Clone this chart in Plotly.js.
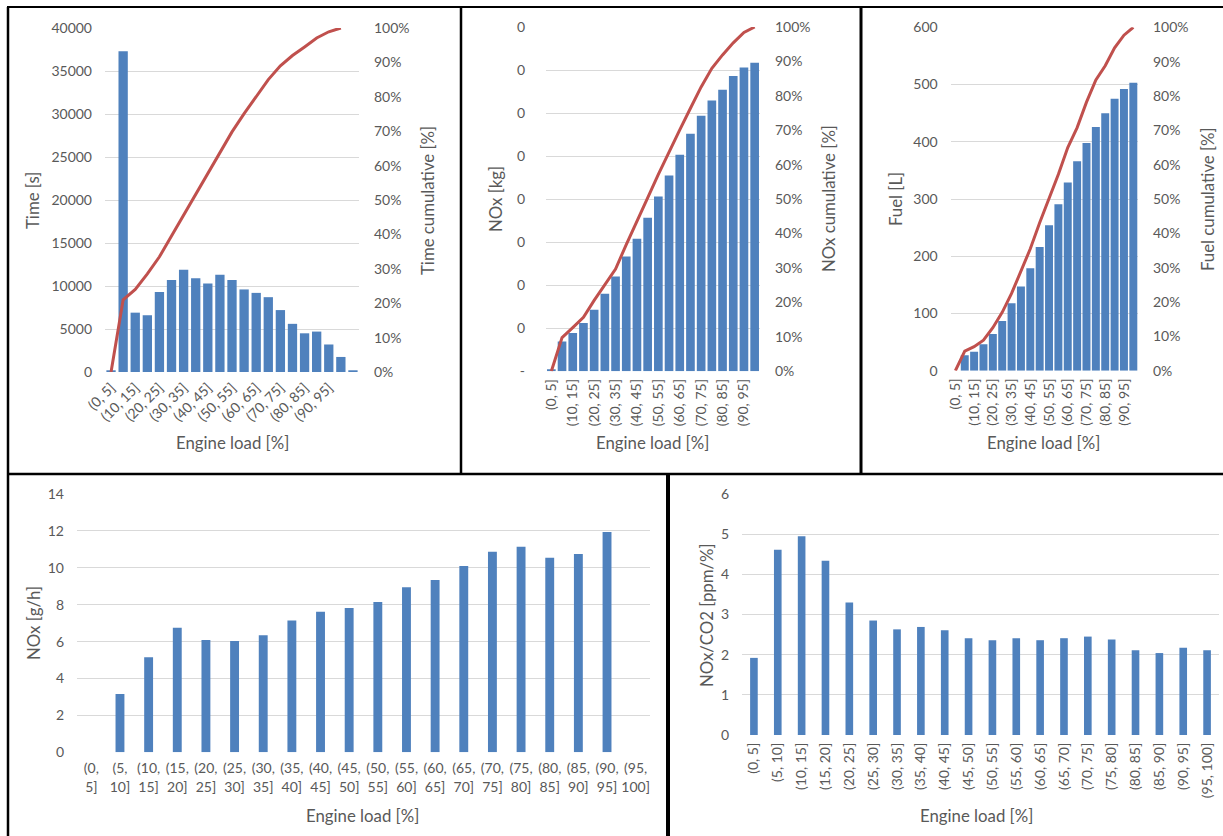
<!DOCTYPE html>
<html><head><meta charset="utf-8">
<script src="https://cdn.plot.ly/plotly-3.0.1.min.js"></script>
<style>html,body{margin:0;padding:0;background:#fff;}#chart{width:1223px;height:836px;}</style>
</head><body><div id="chart"></div>
<script>
// ---------------- DATA ----------------
const loadBins = ["(0, 5]","(5, 10]","(10, 15]","(15, 20]","(20, 25]","(25, 30]","(30, 35]","(35, 40]","(40, 45]","(45, 50]",
                  "(50, 55]","(55, 60]","(60, 65]","(65, 70]","(70, 75]","(75, 80]","(80, 85]","(85, 90]","(90, 95]","(95, 100]"];
const timeBins = ["(0, 5]","(5, 10]","(10, 15]","(15, 20]","(20, 25]","(25, 30]","(30, 35]","(35, 40]","(40, 45]","(45, 50]",
                  "(50, 55]","(55, 60]","(60, 65]","(65, 70]","(70, 75]","(75, 80]","(80, 85]","(85, 90]","(90, 95]","(95, 100]","> 100"];
const shownLoadLabels = ["(0, 5]","(10, 15]","(20, 25]","(30, 35]","(40, 45]","(50, 55]","(60, 65]","(70, 75]","(80, 85]","(90, 95]"];

const timeSeconds = [200, 37300, 6900, 6600, 9300, 10700, 11900, 10900, 10300, 11300, 10700, 9600, 9200, 8700, 7200, 5600, 4500, 4700, 3200, 1750, 200];
const timeCumPct  = [0, 21, 24, 28.5, 33.5, 39.5, 45.8, 51.8, 57.6, 63.8, 69.8, 75.1, 80.2, 85, 89, 92, 94.5, 97.1, 98.9, 100];

const noxKg      = [0.0025, 0.0345, 0.0445, 0.056, 0.0715, 0.09, 0.11, 0.1335, 0.154, 0.1785, 0.203, 0.2275, 0.2515, 0.276, 0.297, 0.3145, 0.327, 0.343, 0.353, 0.3585];
const noxCumPct  = [0, 9.8, 12.7, 15.7, 20.6, 25.1, 29.7, 36.8, 43.8, 50.4, 57.2, 63.9, 70.1, 76.4, 82.6, 88, 91.9, 95.4, 98.4, 100];
const noxKgTickVals = [0, 0.05, 0.1, 0.15, 0.2, 0.25, 0.3, 0.35, 0.4];
const noxKgTickText = ["-", "0", "0", "0", "0", "0", "0", "0", "0"];

const fuelL       = [0, 27, 33, 46, 64, 87, 118, 147, 179, 216, 254, 291, 329, 366, 398, 426, 450, 475, 492, 503];
const fuelCumPct  = [0, 5.7, 7, 8.9, 12.5, 17, 22.5, 29, 35.5, 43.1, 49.9, 57.2, 65, 70.8, 78.2, 84.7, 88.8, 94, 97.7, 100];

const noxRate = [null, 3.16, 5.15, 6.75, 6.09, 6.03, 6.34, 7.15, 7.62, 7.82, 8.15, 8.94, 9.34, 10.1, 10.87, 11.14, 10.55, 10.75, 11.94, null];
const noxCo2  = [1.92, 4.61, 4.95, 4.34, 3.30, 2.85, 2.63, 2.69, 2.61, 2.41, 2.36, 2.41, 2.36, 2.41, 2.45, 2.38, 2.11, 2.04, 2.17, 2.11];

// ---------------- STYLE ----------------
const W = 1223, H = 836;
const fx = p => p / W;
const fy = p => 1 - p / H;
const BLUE = "#4F81BD", RED = "#C0504D", GRID = "#d9d9d9", TXT = "#595959";
const FONT = "Lato, 'Open Sans', sans-serif";
const tickFont = {family: FONT, size: 14, color: TXT};

const pct = a => a.map(v => v == null ? null : v / 100);

const traces = [
  {type:'bar', x: timeBins, y: timeSeconds, xaxis:'x', yaxis:'y', marker:{color:BLUE}, width:0.77},
  {type:'scatter', mode:'lines', x: timeBins.slice(0, timeCumPct.length), y: pct(timeCumPct), xaxis:'x', yaxis:'y2', line:{color:RED, width:3}},
  {type:'bar', x: loadBins, y: noxKg, xaxis:'x2', yaxis:'y3', marker:{color:BLUE}, width:0.81},
  {type:'scatter', mode:'lines', x: loadBins, y: pct(noxCumPct), xaxis:'x2', yaxis:'y4', line:{color:RED, width:3}},
  {type:'bar', x: loadBins, y: fuelL, xaxis:'x3', yaxis:'y5', marker:{color:BLUE}, width:0.85},
  {type:'scatter', mode:'lines', x: loadBins, y: pct(fuelCumPct), xaxis:'x3', yaxis:'y6', line:{color:RED, width:3}},
  {type:'bar', x: loadBins, y: noxRate, xaxis:'x4', yaxis:'y7', marker:{color:BLUE}, width:0.31},
  {type:'bar', x: loadBins, y: noxCo2, xaxis:'x5', yaxis:'y8', marker:{color:BLUE}, width:0.32}
];

function xAx(d, anchor, extra) {
  return Object.assign({domain:[fx(d[0]), fx(d[1])], anchor: anchor, type:'category', showgrid:false, zeroline:false,
    showline:false, ticks:'', tickfont: tickFont, automargin:false, fixedrange:true}, extra || {});
}
function yLeft(d, anchor, extra) {
  return Object.assign({domain:[fy(d[1]), fy(d[0])], anchor: anchor, showgrid:true, gridcolor:GRID, gridwidth:1,
    zeroline:false, showline:false, ticks:'', tickfont: tickFont, automargin:false, fixedrange:true, ticklabelstandoff: 12}, extra || {});
}
function yRight(overlay, anchor, extra) {
  return Object.assign({overlaying: overlay, anchor: anchor, side:'right', range:[0, 1], dtick:0.1, tick0:0, tickformat:'.0%',
    showgrid:false, zeroline:false, showline:false, ticks:'', tickfont: tickFont, automargin:false, fixedrange:true, ticklabelstandoff: 14}, extra || {});
}

const ann = (text, x, y, angle) => ({text: text, x: fx(x), y: fy(y), xref:'paper', yref:'paper', showarrow:false,
  xanchor:'center', yanchor:'middle', textangle: angle || 0, font:{family: FONT, size: 16.8, color: TXT}});

const border = (x0, y0, x1, y1, w) => ({type:'line', xref:'paper', yref:'paper', x0: fx(x0), y0: fy(y0), x1: fx(x1), y1: fy(y1),
  line:{color:'#000', width: w}, layer:'above'});

const layout = {
  width: W, height: H, margin:{l:0, r:0, t:0, b:0}, paper_bgcolor:'#fff', plot_bgcolor:'rgba(0,0,0,0)',
  showlegend:false, font:{family: FONT, color: TXT},
  xaxis:  xAx([105, 359], 'y', {tickangle:-45, tickmode:'array', tickvals: shownLoadLabels, ticktext: shownLoadLabels, ticklabelstandoff: 4}),
  yaxis:  yLeft([28, 372], 'x', {range:[0, 40000], dtick:5000, tick0:0, tickformat:'d'}),
  yaxis2: yRight('y', 'x'),
  xaxis2: xAx([546, 760], 'y3', {tickangle:-90, tickmode:'array', tickvals: shownLoadLabels, ticktext: shownLoadLabels, ticklabelstandoff: 4}),
  yaxis3: yLeft([27, 371.3], 'x2', {range:[0, 0.4], tickmode:'array', tickvals: noxKgTickVals, ticktext: noxKgTickText, ticklabelstandoff: 20}),
  yaxis4: yRight('y3', 'x2'),
  xaxis3: xAx([950.7, 1138], 'y5', {tickangle:-90, tickmode:'array', tickvals: shownLoadLabels, ticktext: shownLoadLabels, ticklabelstandoff: 4}),
  yaxis5: yLeft([27.3, 370.7], 'x3', {range:[0, 600], dtick:100, tick0:0}),
  yaxis6: yRight('y5', 'x3'),
  xaxis4: xAx([77, 650], 'y7', {tickangle:0, tickmode:'array', tickvals: loadBins, ticktext: loadBins.map(s => s.replace(", ", ",<br>")), ticklabelstandoff: 6}),
  yaxis7: yLeft([494, 752.3], 'x4', {range:[0, 14], dtick:2, tick0:0}),
  xaxis5: xAx([742, 1219], 'y8', {tickangle:-90, ticklabelstandoff: 4}),
  yaxis8: yLeft([494, 735], 'x5', {range:[0, 6], dtick:1, tick0:0}),
  annotations: [
    ann('Time [s]', 33, 201, -90), ann('Time cumulative [%]', 428, 201, -90), ann('Engine load [%]', 232, 443),
    ann('NOx [kg]', 495, 199, -90), ann('NOx cumulative [%]', 828, 199, -90), ann('Engine load [%]', 652, 443),
    ann('Fuel [L]', 895, 199, -90), ann('Fuel cumulative [%]', 1207, 199, -90), ann('Engine load [%]', 1043, 443),
    ann('NOx [g/h]', 33, 623, -90), ann('Engine load [%]', 363, 815),
    ann('NOx/CO2 [ppm/%]', 706, 615, -90), ann('Engine load [%]', 976, 815)
  ],
  shapes: [
    border(7, 7, 1223, 7, 2),
    border(8, 7, 8, 836, 2.5),
    border(461, 7, 461, 474, 2.5),
    border(861, 7, 861, 474, 3),
    border(7, 474, 1223, 474, 2.5),
    border(668, 474, 668, 836, 4)
  ]
};

Plotly.newPlot('chart', traces, layout, {displayModeBar:false, staticPlot:true});
</script>
</body></html>
